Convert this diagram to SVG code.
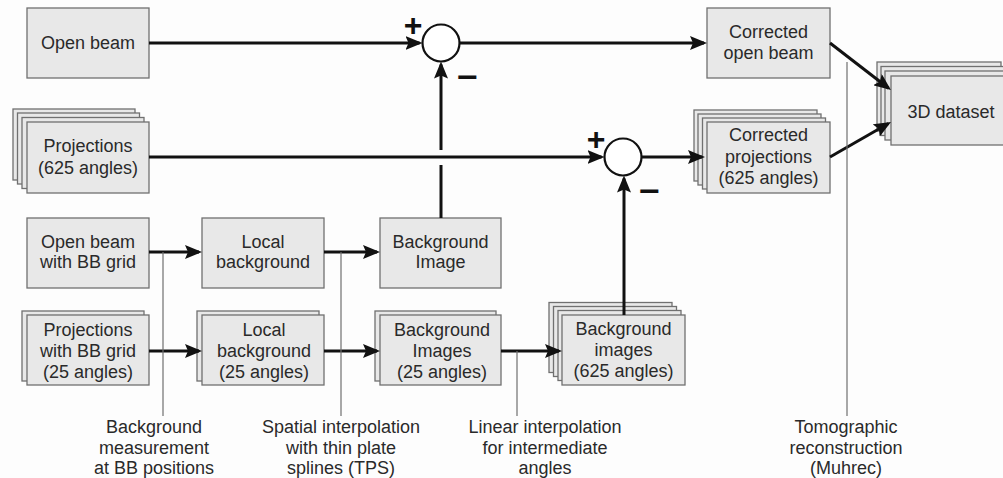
<svg xmlns="http://www.w3.org/2000/svg" width="1003" height="478" viewBox="0 0 1003 478">
<defs>
<style>
.bx{fill:#e8e8e8;stroke:#707070;stroke-width:1.3}
.t{font-family:"Liberation Sans",Arial,sans-serif;font-size:18px;fill:#2a2a2a;text-anchor:middle}
.c{fill:none;stroke:#111;stroke-width:3}
.a{fill:none;stroke:#111;stroke-width:3;marker-end:url(#ah)}
.thin{fill:none;stroke:#707070;stroke-width:1.2}
.sum{fill:#fff;stroke:#111;stroke-width:2.2}
.sg{font-family:"Liberation Sans",Arial,sans-serif;font-weight:bold;fill:#111;text-anchor:middle}
</style>
<marker id="ah" markerUnits="userSpaceOnUse" markerWidth="18" markerHeight="14" refX="14" refY="7" orient="auto">
<path d="M0,0 L17,7 L0,14 L3,7 Z" fill="#111"/>
</marker>
</defs>
<rect width="1003" height="478" fill="#fdfdfd"/>

<g id="open-beam">
<rect class="bx" x="27" y="8" width="122" height="70"/>
<text class="t" x="88" y="49">Open beam</text>
</g>

<g id="projections">
<rect class="bx" x="13" y="109" width="122" height="71"/>
<rect class="bx" x="17.5" y="113" width="122" height="71"/>
<rect class="bx" x="22" y="117.5" width="122" height="71"/>
<rect class="bx" x="27" y="122" width="122" height="71"/>
<text class="t" x="88" y="152">Projections</text>
<text class="t" x="88" y="174">(625 angles)</text>
</g>

<g id="corrected-open-beam">
<rect class="bx" x="707" y="8" width="123" height="70"/>
<text class="t" x="768.5" y="38">Corrected</text>
<text class="t" x="768.5" y="59">open beam</text>
</g>

<g id="corrected-projections">
<rect class="bx" x="694" y="110" width="123" height="71"/>
<rect class="bx" x="698" y="114" width="123" height="71"/>
<rect class="bx" x="702.5" y="118" width="123" height="71"/>
<rect class="bx" x="707" y="122" width="123" height="71"/>
<text class="t" x="768.5" y="141">Corrected</text>
<text class="t" x="768.5" y="163">projections</text>
<text class="t" x="768.5" y="184">(625 angles)</text>
</g>

<g id="dataset-3d">
<rect class="bx" x="877" y="62" width="124" height="69"/>
<rect class="bx" x="881" y="66.5" width="124" height="69"/>
<rect class="bx" x="885" y="71" width="124" height="69"/>
<rect class="bx" x="891" y="76" width="124" height="69"/>
<text class="t" x="951" y="118">3D dataset</text>
</g>

<g id="open-beam-bb">
<rect class="bx" x="27" y="218" width="122" height="70"/>
<text class="t" x="88" y="248">Open beam</text>
<text class="t" x="88" y="268">with BB grid</text>
</g>

<g id="local-background">
<rect class="bx" x="202" y="218" width="122" height="70"/>
<text class="t" x="263" y="248">Local</text>
<text class="t" x="263" y="268">background</text>
</g>

<g id="background-image">
<rect class="bx" x="380" y="218" width="121" height="70"/>
<text class="t" x="440.5" y="248">Background</text>
<text class="t" x="440.5" y="268">Image</text>
</g>

<g id="projections-bb">
<rect class="bx" x="22" y="311" width="122" height="70"/>
<rect class="bx" x="27" y="315" width="122" height="70"/>
<text class="t" x="88" y="336">Projections</text>
<text class="t" x="88" y="357">with BB grid</text>
<text class="t" x="88" y="378">(25 angles)</text>
</g>

<g id="local-background-25">
<rect class="bx" x="197" y="311" width="122" height="70"/>
<rect class="bx" x="202" y="315" width="122" height="70"/>
<text class="t" x="264" y="336">Local</text>
<text class="t" x="264" y="357">background</text>
<text class="t" x="264" y="378">(25 angles)</text>
</g>

<g id="background-images-25">
<rect class="bx" x="375" y="311" width="121" height="70"/>
<rect class="bx" x="380" y="315" width="121" height="70"/>
<text class="t" x="442" y="336">Background</text>
<text class="t" x="442" y="357">Images</text>
<text class="t" x="442" y="378">(25 angles)</text>
</g>

<g id="background-images-625">
<rect class="bx" x="549" y="302.5" width="123" height="70"/>
<rect class="bx" x="553.5" y="306.5" width="123" height="70"/>
<rect class="bx" x="558" y="310.5" width="123" height="70"/>
<rect class="bx" x="562" y="315" width="123" height="70"/>
<text class="t" x="623.5" y="335">Background</text>
<text class="t" x="623.5" y="356">images</text>
<text class="t" x="623.5" y="377">(625 angles)</text>
</g>

<g id="sum-1">
<circle class="sum" cx="441" cy="43" r="18.5"/>
<text class="sg" x="413" y="36" font-size="32">+</text>
<text class="sg" x="467.5" y="86.5" font-size="30" textLength="21" lengthAdjust="spacingAndGlyphs">−</text>
</g>

<g id="sum-2">
<circle class="sum" cx="623" cy="157" r="18.5"/>
<text class="sg" x="596" y="150" font-size="32">+</text>
<text class="sg" x="649.5" y="200.5" font-size="30" textLength="21" lengthAdjust="spacingAndGlyphs">−</text>
</g>

<g id="connectors">
<line class="a" x1="149" y1="43" x2="419.5" y2="43"/>
<line class="a" x1="459.5" y1="43" x2="704" y2="43"/>
<line class="a" x1="149" y1="157" x2="601.5" y2="157"/>
<line class="a" x1="641.5" y1="157" x2="702" y2="157"/>
<line class="c" x1="441" y1="218" x2="441" y2="165"/>
<line class="a" x1="441" y1="150" x2="441" y2="64.5"/>
<line class="a" x1="624" y1="315" x2="624" y2="178.5"/>
<line class="a" x1="830" y1="43" x2="888.6" y2="88.2"/>
<line class="a" x1="830" y1="157" x2="888.4" y2="123.5"/>
<line class="a" x1="149" y1="252" x2="199" y2="252"/>
<line class="a" x1="324" y1="252" x2="377" y2="252"/>
<line class="a" x1="149" y1="351" x2="199" y2="351"/>
<line class="a" x1="324" y1="351" x2="377" y2="351"/>
<line class="a" x1="501" y1="351" x2="559" y2="351"/>
</g>

<g id="annotations">
<line class="thin" x1="163" y1="252" x2="163" y2="416"/>
<line class="thin" x1="341" y1="252" x2="341" y2="416"/>
<line class="thin" x1="517" y1="351" x2="517" y2="416"/>
<line class="thin" x1="847" y1="62" x2="847" y2="416"/>
<text class="t" x="154" y="433">Background</text>
<text class="t" x="154" y="454">measurement</text>
<text class="t" x="154" y="474">at BB positions</text>
<text class="t" x="341" y="433">Spatial interpolation</text>
<text class="t" x="341" y="454">with thin plate</text>
<text class="t" x="341" y="474">splines (TPS)</text>
<text class="t" x="545" y="433">Linear interpolation</text>
<text class="t" x="545" y="454">for intermediate</text>
<text class="t" x="545" y="474">angles</text>
<text class="t" x="846" y="433">Tomographic</text>
<text class="t" x="846" y="454">reconstruction</text>
<text class="t" x="846" y="474">(Muhrec)</text>
</g>
</svg>
